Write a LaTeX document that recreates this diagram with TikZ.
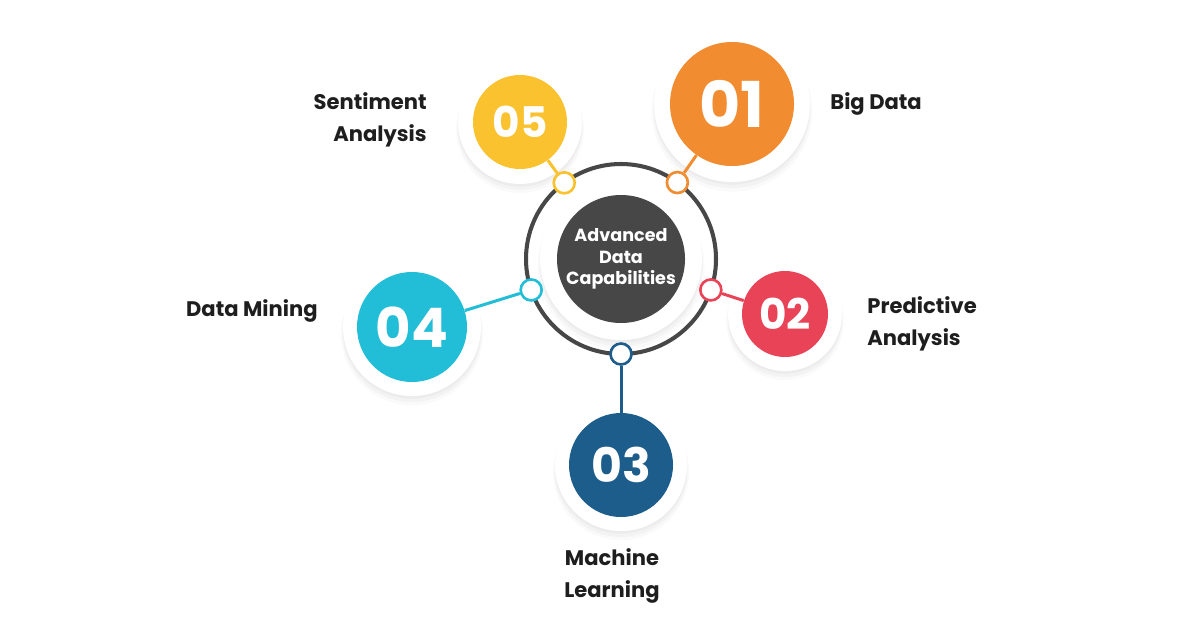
\documentclass[tikz,border=0pt]{standalone}
\usepackage{fontspec}
\setmainfont{Poppins}
\usetikzlibrary{calc,shadows}
\definecolor{cOrange}{HTML}{F28C30}
\definecolor{cRed}{HTML}{E94357}
\definecolor{cBlue}{HTML}{1D5D8C}
\definecolor{cCyan}{HTML}{22BDD6}
\definecolor{cYellow}{HTML}{F9C22E}
\definecolor{cDark}{HTML}{474747}
\definecolor{cText}{HTML}{1E1E1E}

\begin{document}
\begin{tikzpicture}[
  lbl/.style={font=\bfseries\fontsize{12}{18}\selectfont, text=cText, inner sep=0pt},
  disc/.style={circle, fill=white, inner sep=0pt,
               drop shadow={shadow xshift=0pt, shadow yshift=-4pt, shadow scale=1.03, opacity=0.04},
               drop shadow={shadow xshift=0pt, shadow yshift=-3pt, shadow scale=1.01, opacity=0.05},
               drop shadow={shadow xshift=0pt, shadow yshift=-1.5pt, opacity=0.06}},
  num/.style={circle, inner sep=0pt, text=white, font=\bfseries},
  dot/.style={circle, fill=white, line width=1.5pt, minimum size=0.42cm, inner sep=0pt},
  link/.style={line width=1.7pt}
]
\useasboundingbox[fill=white] (0,0) rectangle (24,-12.56);
% ---------------- centre
\coordinate (ctr) at (12.42,-5.18);
\node[disc, minimum size=3.24cm] (cw) at (ctr) {};
\node[circle, draw=cDark, line width=2.3pt, minimum size=3.8cm, inner sep=0pt] (ring) at (ctr) {};
\node[circle, fill=cDark, minimum size=2.56cm, inner sep=0pt, align=center, text=white,
      font=\bfseries\fontsize{10}{12.3}\selectfont] (core) at (ctr) {Advanced\\ Data\\ Capabilities};
% ---------------- white discs
\node[disc, minimum size=3.12cm] (w1) at (14.64,-2.08) {};
\node[disc, minimum size=2.28cm] (w2) at (15.70,-6.28) {};
\node[disc, minimum size=2.64cm] (w3) at (12.42,-9.30) {};
\node[disc, minimum size=2.76cm] (w4) at (8.24,-6.54) {};
\node[disc, minimum size=2.48cm] (w5) at (10.40,-2.44) {};
% ---------------- numbered circles
\node[num, fill=cOrange, minimum size=2.48cm, font=\bfseries\fontsize{36}{36}\selectfont] (n1) at (w1) {01};
\node[num, fill=cRed,    minimum size=1.72cm, font=\bfseries\fontsize{24}{24}\selectfont] (n2) at (w2) {02};
\node[num, fill=cBlue,   minimum size=2.08cm, font=\bfseries\fontsize{27}{27}\selectfont] (n3) at (w3) {03};
\node[num, fill=cCyan,   minimum size=2.20cm, font=\bfseries\fontsize{31}{31}\selectfont] (n4) at (w4) {04};
\node[num, fill=cYellow, minimum size=1.88cm, font=\bfseries\fontsize{24}{24}\selectfont] (n5) at (w5) {05};
% ---------------- dots on the ring and links
\foreach \i/\a/\c in {1/53.6/cOrange, 2/-19/cRed, 3/-90/cBlue, 4/-161/cCyan, 5/126.7/cYellow} {
  \node[dot, draw=\c] (d\i) at ($(ctr)+(\a:1.9)$) {};
  \draw[link, draw=\c] (d\i) -- (n\i);
}
% ---------------- labels
\node[lbl, anchor=west] (l1) at (16.60,-2.08) {Big Data};
\node[lbl, anchor=west, align=left] (l2) at (17.34,-6.48) {Predictive\\ Analysis};
\node[lbl, align=center] (l3) at (12.24,-11.52) {Machine\\ Learning};
\node[lbl, anchor=east] (l4) at (6.36,-6.22) {Data Mining};
\node[lbl, anchor=east, align=right] (l5) at (8.54,-2.40) {Sentiment\\ Analysis};
\end{tikzpicture}
\end{document}
